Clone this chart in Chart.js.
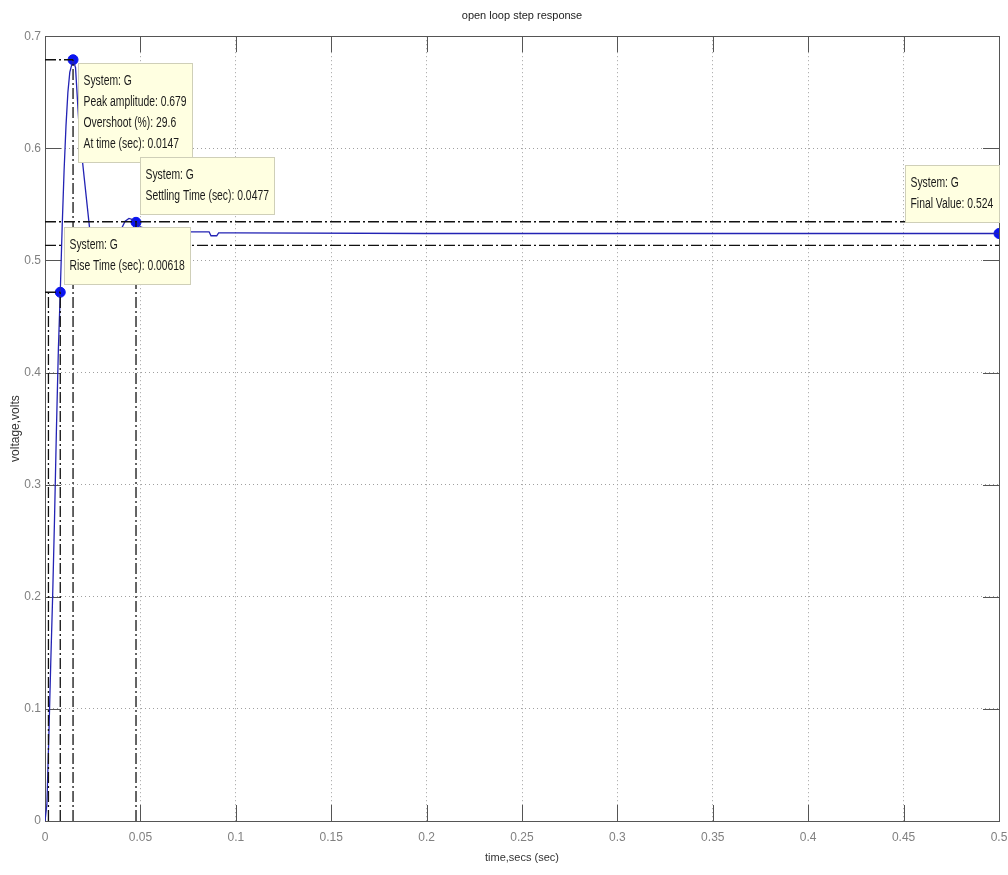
<!DOCTYPE html>
<html>
<head>
<meta charset="utf-8">
<script src="https://cdn.jsdelivr.net/npm/chart.js@4.4.0/dist/chart.umd.min.js"></script>
<style>
html, body { margin: 0; padding: 0; background: #fff; }
#wrap { width: 1008px; height: 875px; }
</style>
</head>
<body>
<div id="wrap"><canvas id="myChart"></canvas></div>
<script>
// step response
const timeSec = [0, 0.001, 0.002, 0.003, 0.004, 0.005, 0.006, 0.007, 0.008, 0.009, 0.010, 0.011, 0.012, 0.013, 0.0147,
    0.016, 0.018, 0.0206, 0.0233, 0.026, 0.029, 0.032, 0.036, 0.040, 0.042, 0.044, 0.046, 0.0477, 0.050, 0.055,
    0.060, 0.070, 0.080, 0.086, 0.087, 0.090, 0.091, 0.100, 0.200, 0.300, 0.400, 0.500];
const voltage = [0, 0.015, 0.075, 0.14, 0.2, 0.27, 0.35, 0.42, 0.4716, 0.53, 0.58, 0.62, 0.65, 0.668, 0.679,
    0.672, 0.615, 0.573, 0.53, 0.5, 0.485, 0.49, 0.51, 0.528, 0.535, 0.5375, 0.5365, 0.534, 0.530, 0.527,
    0.5255, 0.5255, 0.5255, 0.5255, 0.522, 0.522, 0.5245, 0.5245, 0.524, 0.524, 0.524, 0.524];

// characteristic points: rise, peak, settling, final
const markerTime = [0.008, 0.0147, 0.0477, 0.5];
const markerVolt = [0.4716, 0.679, 0.534, 0.524];
const markerText = [
    ['System: G', 'Rise Time (sec): 0.00618'],
    ['System: G', 'Peak amplitude: 0.679', 'Overshoot (%): 29.6', 'At time (sec): 0.0147'],
    ['System: G', 'Settling Time (sec): 0.0477'],
    ['System: G', 'Final Value: 0.524']
];

// dash-dot guide lines (x pairs and y pairs)
const guideX = [[0, 0.5], [0, 0.5], [0, 0.0147], [0.0147, 0.0147], [0.0477, 0.0477], [0, 0.008], [0.008, 0.008], [0.0018, 0.0018]];
const guideY = [[0.5345, 0.5345], [0.5135, 0.5135], [0.679, 0.679], [0, 0.679], [0, 0.534], [0.4716, 0.4716], [0, 0.4716], [0, 0.4716]];

const xTickValues = [0, 0.05, 0.1, 0.15, 0.2, 0.25, 0.3, 0.35, 0.4, 0.45, 0.5];
const xTickLabels = ['0', '0.05', '0.1', '0.15', '0.2', '0.25', '0.3', '0.35', '0.4', '0.45', '0.5'];
const yTickValues = [0, 0.1, 0.2, 0.3, 0.4, 0.5, 0.6, 0.7];
const yTickLabels = ['0', '0.1', '0.2', '0.3', '0.4', '0.5', '0.6', '0.7'];

const FONT = '"Liberation Sans", Arial, sans-serif';

const datasets = [];
guideX.forEach((xs, i) => {
    datasets.push({
        data: xs.map((x, j) => ({x: x, y: guideY[i][j]})),
        borderColor: '#111',
        borderWidth: 1.3,
        borderDash: [11, 3, 2, 3],
        pointRadius: 0,
        showLine: true,
        fill: false
    });
});
datasets.push({
    data: timeSec.map((t, i) => ({x: t, y: voltage[i]})),
    borderColor: '#2323b4',
    borderWidth: 1.3,
    pointRadius: 0,
    showLine: true,
    tension: 0,
    fill: false
});
datasets.push({
    data: markerTime.map((t, i) => ({x: t, y: markerVolt[i]})),
    backgroundColor: '#0a14f0',
    borderColor: '#0a14f0',
    pointRadius: 5,
    showLine: false
});

// MATLAB style box, inner ticks and data tips
const matlabPlugin = {
    id: 'matlab',
    beforeDatasetsDraw(chart) {
        const {ctx, chartArea: a, scales: {x, y}} = chart;
        ctx.save();
        ctx.strokeStyle = '#555';
        ctx.lineWidth = 1;
        const tl = 16;
        xTickValues.forEach(v => {
            const px = Math.round(x.getPixelForValue(v)) + 0.5;
            ctx.beginPath();
            ctx.moveTo(px, a.bottom); ctx.lineTo(px, a.bottom - tl);
            ctx.moveTo(px, a.top); ctx.lineTo(px, a.top + tl);
            ctx.stroke();
        });
        yTickValues.forEach(v => {
            const py = Math.round(y.getPixelForValue(v)) + 0.5;
            ctx.beginPath();
            ctx.moveTo(a.left, py); ctx.lineTo(a.left + tl, py);
            ctx.moveTo(a.right, py); ctx.lineTo(a.right - tl, py);
            ctx.stroke();
        });
        ctx.strokeRect(Math.round(a.left) + 0.5, Math.round(a.top) + 0.5,
            Math.round(a.right - a.left), Math.round(a.bottom - a.top));
        ctx.restore();
    },
    afterDatasetsDraw(chart) {
        const {ctx, scales: {x, y}} = chart;
        const offsets = [[4, -65, 'left'], [5, 3, 'left'], [4, -65, 'left'], [0, -69, 'right']];
        const squeeze = 0.74;
        ctx.save();
        ctx.font = '14px ' + FONT;
        markerText.forEach((lines, i) => {
            const px = x.getPixelForValue(markerTime[i]);
            const py = y.getPixelForValue(markerVolt[i]);
            const w = Math.round(Math.max(...lines.map(s => ctx.measureText(s).width)) * squeeze) + 11;
            const h = lines.length * 21 + 15;
            const [dx, dy, side] = offsets[i];
            const bx = Math.round(side === 'left' ? px + dx : px - w) + 0.5;
            const by = Math.round(py + dy) + 0.5;
            ctx.fillStyle = '#ffffe1';
            ctx.strokeStyle = '#cfcfb8';
            ctx.lineWidth = 1;
            ctx.fillRect(bx, by, w, h);
            ctx.strokeRect(bx, by, w, h);
            ctx.fillStyle = '#1a1a1a';
            ctx.textBaseline = 'middle';
            ctx.textAlign = 'left';
            lines.forEach((s, j) => {
                ctx.save();
                ctx.translate(bx + 5, by + 18 + j * 21);
                ctx.scale(squeeze, 1);
                ctx.fillText(s, 0, 0);
                ctx.restore();
            });
        });
        ctx.restore();
    }
};

const config = {
    type: 'scatter',
    data: {datasets: datasets},
    options: {
        responsive: true,
        maintainAspectRatio: false,
        animation: false,
        layout: {padding: {left: 0, right: 0, top: 0, bottom: 0}},
        plugins: {
            legend: {display: false},
            tooltip: {enabled: false},
            title: {
                display: true,
                fullSize: false,
                text: 'open loop step response',
                color: '#222',
                font: {family: FONT, size: 11, weight: 'normal'},
                padding: {top: 9, bottom: 14}
            }
        },
        scales: {
            x: {
                type: 'linear',
                min: 0,
                max: 0.5,
                afterBuildTicks: s => { s.ticks = xTickValues.map(v => ({value: v})); },
                afterFit: s => { s.height = 54; s.paddingLeft = 0; s.paddingRight = 9; },
                ticks: {
                    autoSkip: false,
                    maxRotation: 0,
                    padding: 9,
                    color: '#808080',
                    font: {family: FONT, size: 12},
                    callback: (v, i) => xTickLabels[i]
                },
                grid: {color: '#a0a0a0', lineWidth: 1, drawTicks: false},
                border: {display: false, dash: [1, 3]},
                title: {
                    display: true,
                    text: 'time,secs (sec)',
                    color: '#333',
                    font: {family: FONT, size: 11},
                    padding: {top: 0, bottom: 10}
                }
            },
            y: {
                type: 'linear',
                min: 0,
                max: 0.7,
                afterBuildTicks: s => { s.ticks = yTickValues.map(v => ({value: v})); },
                afterFit: s => { s.width = 45; },
                ticks: {
                    autoSkip: false,
                    padding: 4,
                    color: '#808080',
                    font: {family: FONT, size: 12},
                    callback: (v, i) => yTickLabels[i]
                },
                grid: {color: '#a0a0a0', lineWidth: 1, drawTicks: false},
                border: {display: false, dash: [1, 3]},
                title: {
                    display: true,
                    text: 'voltage,volts',
                    color: '#333',
                    font: {family: FONT, size: 12},
                    padding: {top: 8, bottom: 0}
                }
            }
        }
    },
    plugins: [matlabPlugin]
};

const ctx = document.getElementById('myChart').getContext('2d');
new Chart(ctx, config);
</script>
</body>
</html>
